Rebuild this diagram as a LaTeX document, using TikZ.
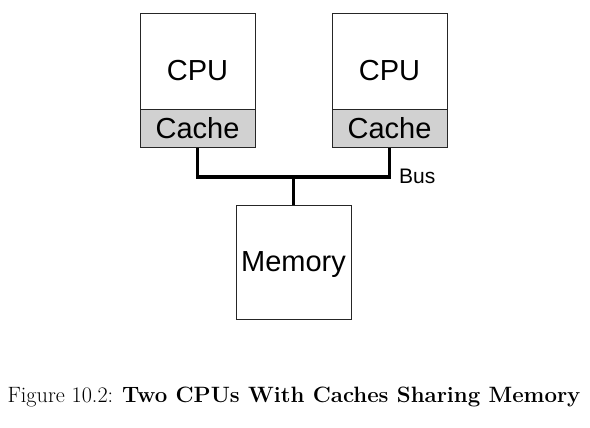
\documentclass[tikz,border=0pt]{standalone}
\usepackage{fontspec}
\setsansfont{Liberation Sans}
\usepackage{tikz}
\usetikzlibrary{positioning, calc}

\tikzset{
  unit/.style={draw=black!85, line width=0.8pt, minimum width=115pt, inner sep=0pt,
    font=\sffamily\fontsize{29}{30}\selectfont},
  cpubox/.style={unit, minimum height=96pt, text height=39pt, text depth=0pt},
  cachebox/.style={unit, fill=black!18, minimum height=38pt},
  bus/.style={line width=3.6pt}
}

\begin{document}
\begin{tikzpicture}[x=1pt,y=-1pt]
        \useasboundingbox (0,0) rectangle (590,428);
        % two processors with their caches
        \node[cpubox] (cpuA) at (197.5,61) {CPU};
        \node[cachebox] (cacheA) at (197.5,128.5) {Cache};
        \node[cpubox] (cpuB) at (389.5,61) {CPU};
        \node[cachebox] (cacheB) at (389.5,128.5) {Cache};
        % main memory
        \node[unit, minimum height=114pt, text depth=0pt] (mem) at (293.5,262) {Memory};
        % the shared bus
        \coordinate (busmid) at (293.5,177);
        \draw[bus] (cacheA.south) |- (busmid) -| (cacheB.south);
        \draw[bus] (busmid) -- (mem.north);
        \node[anchor=west, inner sep=0pt, font=\sffamily\fontsize{21}{22}\selectfont] (buslbl) at (399,176) {Bus};
        \node[anchor=base, inner sep=0pt, font=\fontsize{22.2}{24}\selectfont] (caption) at (294,402)
          {Figure 10.2: \textbf{Two CPUs With Caches Sharing Memory}};
\end{tikzpicture}
\end{document}
